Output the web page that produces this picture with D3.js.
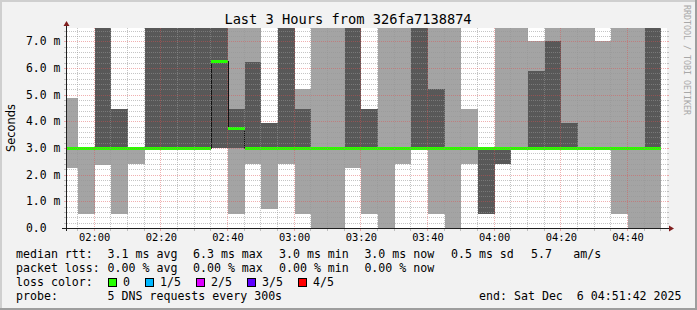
<!DOCTYPE html>
<html>
<head>
<meta charset="utf-8">
<script src="https://cdn.jsdelivr.net/npm/d3@7"></script>
<style>
  body { margin: 0; background: #f2f2f2; }
  svg { display: block; }
  text { font-family: "DejaVu Sans Mono", monospace; fill: #000; }
</style>
</head>
<body>
<div id="chart"></div>
<script>
// end time of each 5 minute step (UTC, Dec 6 2025)
var stepEnds = ["01:55", "02:00", "02:05", "02:10", "02:15", "02:20", "02:25", "02:30", "02:35",
  "02:40", "02:45", "02:50", "02:55", "03:00", "03:05", "03:10", "03:15", "03:20", "03:25",
  "03:30", "03:35", "03:40", "03:45", "03:50", "03:55", "04:00", "04:05", "04:10", "04:15",
  "04:20", "04:25", "04:30", "04:35", "04:40", "04:45", "04:50"];

// sorted pings per step, ms (values above 7.5 are off the chart)
var ping1 = [2.26, 0.54, 2.38, 0.54, 2.41, 3.0, 3.0, 3.0, 3.0, 3.0, 0.54, 2.41, 0.70, 2.41, 0.54, 0, 0, 2.26,
  0.54, 0, 2.41, 3.0, 0.54, 0, 2.41, 0.54, 2.41, 3.0, 3.0, 3.0, 3.0, 3.0, 3.0, 0.54, 0, 0];
var ping2 = [2.98, 2.98, 3.0, 3.0, 2.98, 3.0, 3.0, 3.0, 3.0, 3.0, 3.0, 3.0, 3.0, 3.0, 3.0, 2.98, 2.98, 3.0,
  3.0, 2.98, 2.98, 3.0, 3.0, 2.98, 2.98, 0.54, 2.41, 3.0, 3.0, 3.0, 3.0, 3.0, 3.0, 2.98, 2.98, 3.0];
var medianRtt = [3.0, 3.0, 3.0, 3.0, 3.0, 3.0, 3.0, 3.0, 3.0, 6.25, 3.75, 3.0, 3.0, 3.0, 3.0, 3.0, 3.0, 3.0,
  3.0, 3.0, 3.0, 3.0, 3.0, 3.0, 3.0, 3.0, 3.0, 3.0, 3.0, 3.0, 3.0, 3.0, 3.0, 3.0, 3.0, 3.0];
var ping4 = [3.02, 3.02, 9, 4.47, 3.02, 9, 9, 9, 9, 9, 4.47, 6.24, 3.94, 9, 4.47, 3.02, 3.02, 9,
  4.47, 3.02, 3.02, 9, 5.22, 3.02, 3.02, 3.0, 3.0, 3.02, 5.9, 7.0, 3.94, 3.02, 3.02, 3.02, 3.02, 9];
var ping5 = [4.88, 3.02, 9, 4.47, 3.02, 9, 9, 9, 9, 9, 9, 9, 3.94, 9, 5.22, 9, 9, 9,
  4.47, 9, 9, 9, 9, 9, 4.47, 3.0, 9, 9, 7.0, 9, 9, 9, 7.0, 9, 9, 9];
var lossSteps = [0, 0, 0, 0, 0, 0, 0, 0, 0, 0, 0, 0, 0, 0, 0, 0, 0, 0,
  0, 0, 0, 0, 0, 0, 0, 0, 0, 0, 0, 0, 0, 0, 0, 0, 0, 0];

var yTicks = [0, 1, 2, 3, 4, 5, 6, 7];
var yTickLabels = ["0.0", "1.0 m", "2.0 m", "3.0 m", "4.0 m", "5.0 m", "6.0 m", "7.0 m"];
var xTickLabels = ["02:00", "02:20", "02:40", "03:00", "03:20", "03:40", "04:00", "04:20", "04:40"];

var lossNames = ["0", "1/5", "2/5", "3/5", "4/5"];
var lossColors = ["#26ff00", "#00b8ff", "#dd00ff", "#5e00ff", "#ff0000"];
var rttStats = ["3.1 ms avg", "6.3 ms max", "3.0 ms min", "3.0 ms now", "0.5 ms sd", "5.7", "am/s"];
var lossStats = ["0.00 % avg", "0.00 % max", "0.00 % min", "0.00 % now"];

var W = 697, H = 310;
var plot = { left: 67, right: 667, top: 28, bottom: 228 };

var parseT = d3.utcParse("%Y-%m-%d %H:%M:%S");
var tStart = parseT("2025-12-06 01:51:42");
var tEnd = parseT("2025-12-06 04:51:42");
var ends = stepEnds.map((s) => parseT("2025-12-06 " + s + ":00"));

var x = d3.scaleUtc().domain([tStart, tEnd]).range([plot.left, plot.right]);
var y = d3.scaleLinear().domain([0, 7.5]).range([plot.bottom, plot.top]);

var steps = ends.map((e, i) => ({
  t0: i === 0 ? tStart : ends[i - 1],
  t1: e,
  p1: ping1[i], p2: ping2[i], med: medianRtt[i], p4: ping4[i], p5: ping5[i],
  loss: lossSteps[i]
}));

var svg = d3.select("#chart").append("svg").attr("width", W).attr("height", H);

// background and 3d frame
svg.append("rect").attr("width", W).attr("height", H).attr("fill", "#f2f2f2");
svg.append("path").attr("d", `M0,0H${W}V2H2V${H}H0Z`).attr("fill", "#cfcfcf");
svg.append("path").attr("d", `M${W},0V${H}H0V${H - 2}H${W - 2}V0Z`).attr("fill", "#9e9e9e");

// canvas
svg.append("rect")
  .attr("x", plot.left).attr("y", plot.top)
  .attr("width", plot.right - plot.left).attr("height", plot.bottom - plot.top)
  .attr("fill", "#fff");

svg.append("defs").append("clipPath").attr("id", "clip")
  .append("rect")
  .attr("x", plot.left).attr("y", plot.top)
  .attr("width", plot.right - plot.left).attr("height", plot.bottom - plot.top);

var area = svg.append("g").attr("clip-path", "url(#clip)");

// smoke: outer pings light, inner pings dark
area.append("g").selectAll("rect").data(steps).join("rect")
  .attr("shape-rendering", "crispEdges")
  .attr("x", (d) => x(d.t0))
  .attr("width", (d) => x(d.t1) - x(d.t0))
  .attr("y", (d) => y(Math.min(d.p5, 7.6)))
  .attr("height", (d) => y(d.p1) - y(Math.min(d.p5, 7.6)))
  .attr("fill", "#a4a4a4");

area.append("g").selectAll("rect").data(steps).join("rect")
  .attr("shape-rendering", "crispEdges")
  .attr("x", (d) => x(d.t0))
  .attr("width", (d) => x(d.t1) - x(d.t0))
  .attr("y", (d) => y(Math.min(d.p4, 7.6)))
  .attr("height", (d) => y(d.p2) - y(Math.min(d.p4, 7.6)))
  .attr("fill", "#585858");

// grid, dotted, drawn over the smoke like rrdtool does
var grid = svg.append("g").attr("shape-rendering", "crispEdges");
var px = (v) => Math.round(v) + 0.5;
var minorY = d3.range(1, 38).filter((k) => k % 5 !== 0).map((k) => k * 0.2);
var minorX = x.ticks(d3.utcMinute.every(5)).filter((t) => t.getUTCMinutes() % 20 !== 0);
var majorX = x.ticks(d3.utcMinute.every(20));
var minorCol = "rgba(150,150,150,0.55)", majorCol = "rgba(222,79,79,0.45)";

function hLine(v, color) {
  var yy = px(y(v));
  grid.append("line").attr("x1", plot.left).attr("x2", plot.right).attr("y1", yy).attr("y2", yy)
    .attr("stroke", color).attr("stroke-dasharray", "1,1");
  grid.append("line").attr("x1", plot.left - 3).attr("x2", plot.left).attr("y1", yy).attr("y2", yy)
    .attr("stroke", color);
  grid.append("line").attr("x1", plot.right).attr("x2", plot.right + 2).attr("y1", yy).attr("y2", yy)
    .attr("stroke", color);
}
function vLine(t, color) {
  var xx = px(x(t)) - 1;
  grid.append("line").attr("x1", xx).attr("x2", xx).attr("y1", plot.top).attr("y2", plot.bottom)
    .attr("stroke", color).attr("stroke-dasharray", "1,1");
  grid.append("line").attr("x1", xx).attr("x2", xx).attr("y1", plot.bottom).attr("y2", plot.bottom + 3)
    .attr("stroke", color);
}
minorY.forEach((v) => hLine(v, minorCol));
minorX.forEach((t) => vLine(t, minorCol));
yTicks.filter((v) => v > 0).forEach((v) => hLine(v, majorCol));
majorX.forEach((t) => vLine(t, majorCol));

// median: thin dark step line, then loss-coloured band
var medPts = steps.map((d) => [x(d.t0), y(d.med)]);
medPts.push([x(steps[steps.length - 1].t1), y(steps[steps.length - 1].med)]);
area.append("path")
  .attr("d", d3.line().curve(d3.curveStepAfter)(medPts))
  .attr("fill", "none").attr("stroke", "#111").attr("stroke-width", 1)
  .attr("shape-rendering", "crispEdges");

area.append("g").selectAll("rect").data(steps).join("rect")
  .attr("shape-rendering", "crispEdges")
  .attr("x", (d) => x(d.t0))
  .attr("width", (d) => x(d.t1) - x(d.t0))
  .attr("y", (d) => y(d.med) - 1.5)
  .attr("height", 3)
  .attr("fill", (d) => lossColors[d.loss]);

// axes
svg.append("line").attr("x1", plot.left - 0.5).attr("x2", plot.left - 0.5)
  .attr("y1", plot.bottom + 3).attr("y2", plot.top - 3).attr("stroke", "#1f1f1f");
svg.append("line").attr("x1", plot.left - 5).attr("x2", plot.right + 3)
  .attr("y1", plot.bottom + 0.5).attr("y2", plot.bottom + 0.5).attr("stroke", "#1f1f1f");
svg.append("path").attr("d", `M${plot.left - 3.5},${plot.top - 2}L${plot.left + 2.5},${plot.top - 2}L${plot.left - 0.5},${plot.top - 7}Z`)
  .attr("fill", "#801f1f");
svg.append("path").attr("d", `M${plot.right + 2},${plot.bottom - 2.5}L${plot.right + 2},${plot.bottom + 3.5}L${plot.right + 7},${plot.bottom + 0.5}Z`)
  .attr("fill", "#801f1f");

// axis labels
svg.append("g").selectAll("text").data(yTicks).join("text")
  .attr("x", 26)
  .attr("y", (d) => y(d) + 4)
  .style("font-size", "11.4px")
  .text((d, i) => yTickLabels[i]);

svg.append("g").selectAll("text").data(majorX).join("text")
  .attr("x", (d) => x(d))
  .attr("y", 241)
  .attr("text-anchor", "middle")
  .style("font-size", "10.4px")
  .text((d, i) => xTickLabels[i]);

// title, unit, watermark
svg.append("text").attr("x", 348).attr("y", 24).attr("text-anchor", "middle")
  .style("font-size", "13.7px").text("Last 3 Hours from 326fa7138874");
svg.append("text").attr("transform", "translate(14.5,128) rotate(-90)")
  .attr("text-anchor", "middle")
  .style("font-family", "'DejaVu Sans', sans-serif").style("font-size", "11.4px")
  .text("Seconds");
svg.append("text").attr("transform", "translate(684,5) rotate(90)")
  .style("font-size", "8.3px").style("fill", "#a8a8a8")
  .text("RRDTOOL / TOBI OETIKER");

// legend
var legend = svg.append("g").style("font-size", "11.6px");
var statX = [107.6, 193, 279, 364.4, 451, 531, 573.3];
legend.append("text").attr("x", 16).attr("y", 258).text("median rtt:");
rttStats.forEach((s, i) => legend.append("text").attr("x", statX[i]).attr("y", 258).text(s));
legend.append("text").attr("x", 16).attr("y", 272).text("packet loss:");
lossStats.forEach((s, i) => legend.append("text").attr("x", statX[i]).attr("y", 272).text(s));
legend.append("text").attr("x", 16).attr("y", 286).text("loss color:");
var swatchX = [108.5, 145.5, 196.5, 247.5, 298.5];
lossNames.forEach((n, i) => {
  legend.append("rect").attr("x", swatchX[i]).attr("y", 278.5).attr("width", 8).attr("height", 8)
    .attr("fill", lossColors[i]).attr("stroke", "#000");
  legend.append("text").attr("x", swatchX[i] + 14.5).attr("y", 286).text(n);
});
legend.append("text").attr("x", 16).attr("y", 300).text("probe:");
legend.append("text").attr("x", 107.6).attr("y", 300).text("5 DNS requests every 300s");
legend.append("text").attr("x", 681.5).attr("y", 300).attr("text-anchor", "end")
  .attr("xml:space", "preserve").style("white-space", "pre")
  .text("end: Sat Dec  6 04:51:42 2025");
</script>
</body>
</html>
